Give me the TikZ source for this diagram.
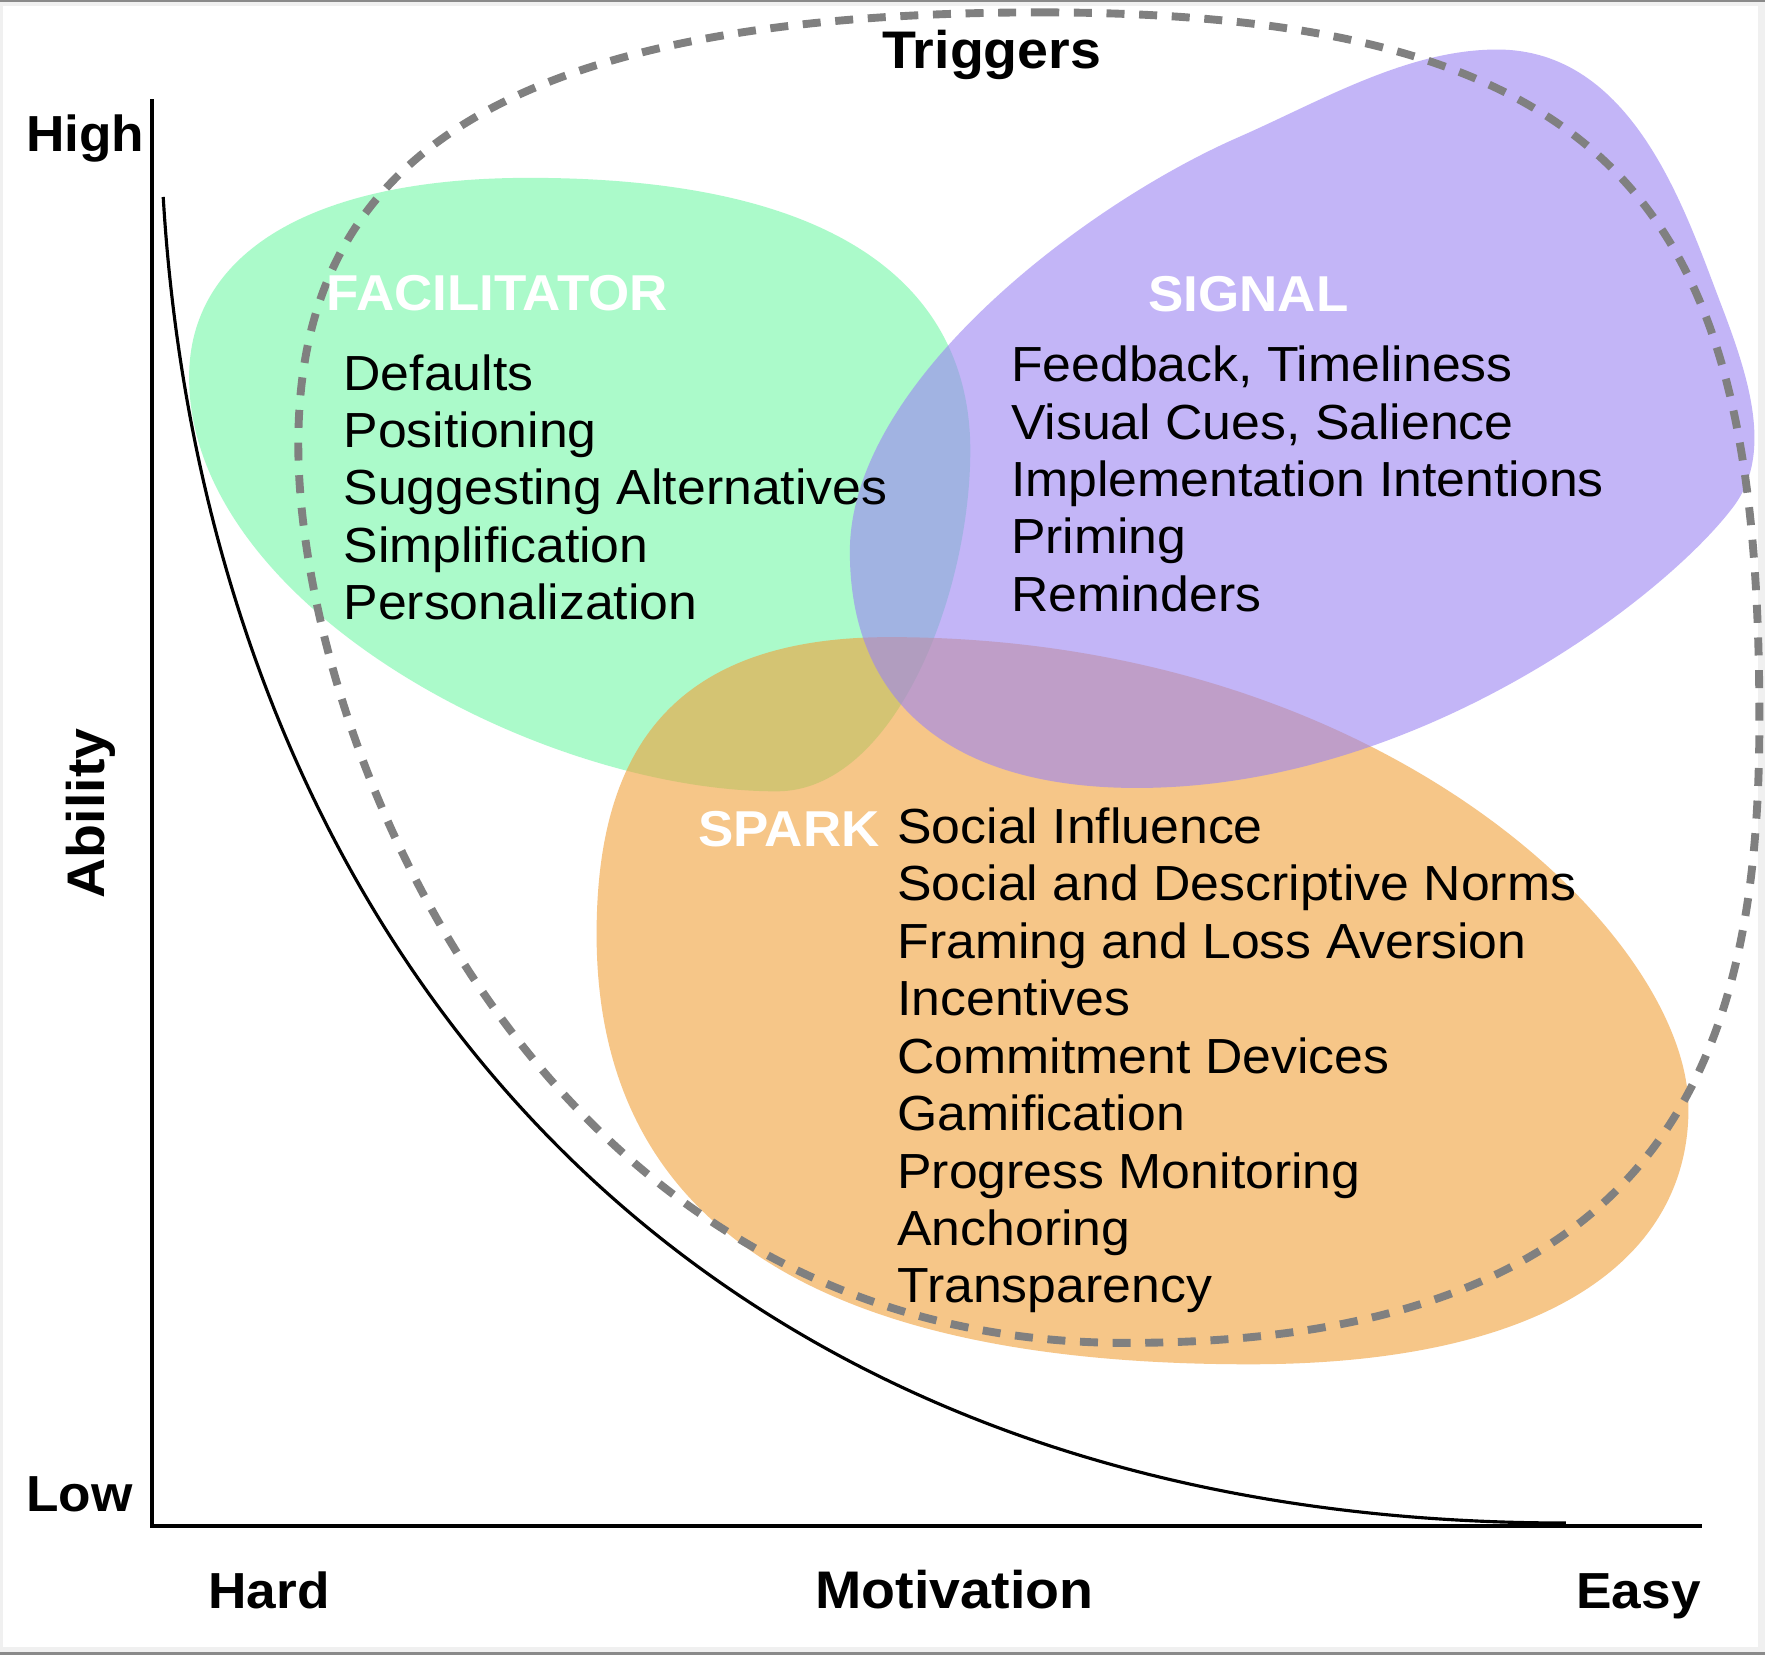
\documentclass[tikz,border=0pt]{standalone}
\usepackage{fontspec}
\setmainfont{Liberation Sans}[FakeStretch=1.05]
\usepackage{tikz}
\usetikzlibrary{positioning}

\definecolor{facgreen}{RGB}{115,248,168}
\definecolor{sigpurple}{RGB}{155,132,243}
\definecolor{sparkorange}{RGB}{240,160,58}
\definecolor{triggergray}{RGB}{128,128,128}
\definecolor{framelight}{RGB}{240,240,240}
\definecolor{framedark}{RGB}{138,138,138}

\begin{document}
\begin{tikzpicture}[x=1pt, y=-1pt, line cap=butt, line join=round,
    blob/.style={fill opacity=0.6},
    axisline/.style={black, line width=3.5pt, line join=miter},
    curveline/.style={black, line width=2.8pt},
    triggerline/.style={triggergray, line width=7pt, dash pattern=on 16pt off 13pt},
    axislabel/.style={inner sep=0pt, font=\bfseries\fontsize{45}{50}\selectfont},
    titlelabel/.style={inner sep=0pt, font=\bfseries\fontsize{47}{52}\selectfont},
    headlabel/.style={inner sep=0pt, anchor=base west, text=white,
                      font=\bfseries\fontsize{44.8}{50}\selectfont},
    itemlabel/.style={inner sep=0pt, anchor=base west,
                      font=\fontsize{43.8}{51}\selectfont}]

% ---------------------------------------------------------
% Parameters
% ---------------------------------------------------------
\pgfmathsetmacro{\lineSkip}{51}     % baseline distance of the lists
\pgfmathsetmacro{\facY}{346.5}      % first baseline, facilitator list
\pgfmathsetmacro{\sigY}{339}        % first baseline, signal list
\pgfmathsetmacro{\spkY}{749.4}      % first baseline, spark list

\useasboundingbox (0,0) rectangle (1568,1470);

% ---------------------------------------------------------
% Frame
% ---------------------------------------------------------
\fill[framelight] (0,0) rectangle (1568,1470);
\fill[white] (2.7,5.3) rectangle (1562,1463);
\fill[framedark] (0,0) rectangle (1568,2.2);
\fill[framedark] (0,1467.5) rectangle (1568,1470);

% ---------------------------------------------------------
% Key points
% ---------------------------------------------------------
\coordinate (ytop) at (135,88);      % top of ability axis
\coordinate (xend) at (1512,1356);   % end of motivation axis
\coordinate (cstart) at (145,175);   % start of action line
\coordinate (cend) at (1391,1353);   % end of action line

% ---------------------------------------------------------
% Blobs
% ---------------------------------------------------------
% facilitator
\fill[facgreen, blob] (470,158)
    .. controls (273,158) and (168,227) .. (168,335)
    .. controls (168,538) and (480,703) .. (690,703)
    .. controls (794,703) and (862,529) .. (862,400)
    .. controls (862,275) and (774,158) .. cycle;

% spark
\fill[sparkorange, blob] (790,566)
    .. controls (1230,566) and (1500,832) .. (1500,985)
    .. controls (1500,1117) and (1377,1212) .. (1110,1212)
    .. controls (690,1212) and (530,1062) .. (530,830)
    .. controls (530,675) and (590,566) .. cycle;

% signal
\fill[sigpurple, blob] (1330,44)
    .. controls (1450,44) and (1496,184) .. (1528,268)
    .. controls (1553,333) and (1576,402) .. (1540,450)
    .. controls (1480,530) and (1260,700) .. (1010,700)
    .. controls (843,700) and (755,623) .. (755,490)
    .. controls (755,340) and (963,182) .. (1100,122)
    .. controls (1173,90) and (1250,44) .. cycle;

% ---------------------------------------------------------
% Trigger boundary (dashed)
% ---------------------------------------------------------
\draw[triggerline] (925,11)
    .. controls (1461,11) and (1563,207) .. (1563,640)
    .. controls (1563,929) and (1489,1193) .. (1000,1193)
    .. controls (473,1193) and (265,651) .. (265,395)
    .. controls (265,160) and (418,11) .. cycle;

% ---------------------------------------------------------
% Axes and action line
% ---------------------------------------------------------
\draw[axisline] (ytop) |- (xend);
\draw[curveline] (cstart) .. controls (182,795) and (571,1353) .. (cend);

% ---------------------------------------------------------
% Axis labels
% ---------------------------------------------------------
\node[titlelabel, anchor=base] (triggers) at (881,61) {Triggers};
\node[titlelabel, anchor=base] (motivation) at (848,1429) {Motivation};
\node[titlelabel, anchor=base, rotate=90] (ability) at (93,722.5) {Ability};
\node[axislabel, anchor=base west] (high) at (23,135) {High};
\node[axislabel, anchor=base west] (low) at (23,1343) {Low};
\node[axislabel, anchor=base west] (hard) at (185,1429) {Hard};
\node[axislabel, anchor=base east] (easy) at (1511,1429) {Easy};

% ---------------------------------------------------------
% Facilitator
% ---------------------------------------------------------
\node[headlabel] (facilitator) at (290,275.5) {FACILITATOR};
\foreach \txt [count=\i] in {Defaults, Positioning, Suggesting Alternatives,
    Simplification, Personalization}
  \node[itemlabel] (fac\i) at (305,{\facY+\lineSkip*(\i-1)}) {\txt};

% ---------------------------------------------------------
% Signal
% ---------------------------------------------------------
\node[headlabel] (signal) at (1020,277) {SIGNAL};
\foreach \txt [count=\i] in {{Feedback, Timeliness}, {Visual Cues, Salience},
    Implementation Intentions, Priming, Reminders}
  \node[itemlabel] (sig\i) at (898,{\sigY+\lineSkip*(\i-1)}) {\txt};

% ---------------------------------------------------------
% Spark
% ---------------------------------------------------------
\node[headlabel] (spark) at (620,752) {SPARK};
\foreach \txt [count=\i] in {Social Influence, Social and Descriptive Norms,
    Framing and Loss Aversion, Incentives, Commitment Devices, Gamification,
    Progress Monitoring, Anchoring, Transparency}
  \node[itemlabel] (spk\i) at (797,{\spkY+\lineSkip*(\i-1)}) {\txt};

\end{tikzpicture}
\end{document}
